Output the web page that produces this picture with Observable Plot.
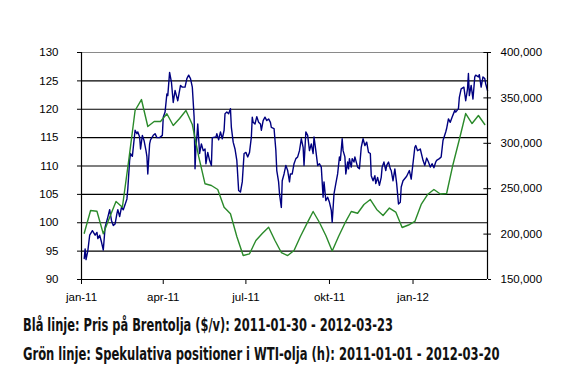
<!DOCTYPE html>
<html><head><meta charset="utf-8">
<script src="https://cdn.jsdelivr.net/npm/d3@7"></script>
<script src="https://cdn.jsdelivr.net/npm/@observablehq/plot@0.6"></script>
<style>
body{margin:0;background:#fff;}
#chart svg{display:block}
#caption{display:block}
</style></head><body><div id="chart"></div>
<svg id="caption" width="580" height="74" xmlns="http://www.w3.org/2000/svg"></svg>
<script>
// Brent price (left axis, $/barrel); days counted from 2011-01-01
const brentDay = [
 3,4,5,7,9,12,15,17,18,20,
 22,24,26,28,29,31,33,35,37,39,
 40,42,44,46,48,50,51,53,54,56,
 59,61,62,64,65,67,69,71,72,73,
 75,76,79,81,83,86,89,90,92,94,
 95,97,99,101,103,104,106,109,111,114,
 116,118,120,122,124,125,126,127,128,130,
 132,134,136,137,139,141,143,144,148,149,
 151,153,155,157,158,160,162,164,165,167,
 169,171,173,175,177,179,181,183,185,187,
 188,189,191,193,195,197,198,200,202,204,
 206,208,209,212,214,215,217,218,220,221,
 223,225,227,229,230,232,234,236,238,240,
 242,244,245,247,249,251,253,255,256,258,
 260,262,264,266,267,269,271,273,275,276,
 278,280,282,284,285,287,288,290,291,293,
 294,295,297,298,300,301,304,306,308,310,
 312,314,316,318,319,321,323,324,326,328,
 330,331,333,335,336,338,340,341,343,345,
 347,349,351,352,354,358,361,363,367,368,
 370,373,376,378,380,382,384,386,388,390,
 391,394,396,398,401,402,404,406,408,411,
 412,415,416,418,421,423,425,426,427,429,
 431,433,434,437,438,440,442,444,445,447];
const brentPrice = [
 93.7,95.4,93.5,95.1,97.8,98.6,97.8,98.3,97.2,97.8,
 96.6,95.2,99.2,100.4,101.0,102.3,100.4,99.5,99.8,101.6,
 102.3,101.1,102.7,102.3,103.2,104.2,106.0,111.0,112.2,111.7,
 116.3,115.7,116.0,115.1,113.0,115.4,114.4,112.7,111.7,108.6,
 113.9,114.6,115.4,115.7,115.0,115.0,115.4,118.6,119.5,122.7,
 122.4,126.5,124.8,121.2,123.3,122.7,121.5,124.2,123.9,123.9,
 125.4,126.0,125.4,123.9,118.6,109.5,113.3,115.1,117.4,112.2,
 113.9,112.7,113.0,110.4,112.4,111.0,110.1,115.0,115.1,115.7,
 114.6,116.0,114.8,116.3,119.2,119.5,119.2,120.1,116.8,114.2,
 113.0,111.0,105.7,105.4,107.2,112.2,112.4,111.6,112.4,115.1,
 118.6,117.7,117.4,118.7,117.7,117.4,116.3,118.0,118.6,118.0,
 118.3,117.7,116.8,116.6,112.7,109.2,107.2,105.1,102.7,107.4,
 108.6,110.1,109.2,107.2,108.6,108.6,110.4,111.3,111.6,112.7,
 114.8,113.3,110.1,116.0,115.4,112.7,113.9,112.2,115.1,112.7,
 110.1,110.4,109.8,104.5,107.2,103.9,104.5,103.6,102.2,100.1,
 105.1,106.9,108.6,111.6,111.0,114.8,112.7,111.6,108.6,110.7,
 109.5,111.3,109.8,111.3,110.7,111.6,109.8,109.5,113.3,114.8,
 113.6,114.2,112.4,112.2,108.3,107.4,108.3,106.9,108.0,106.6,
 108.0,109.8,110.7,109.2,110.1,110.7,109.5,109.2,107.4,109.5,
 106.9,103.3,103.6,106.3,107.4,108.2,109.2,107.7,113.3,113.6,
 112.7,113.0,111.0,110.1,111.4,110.7,109.8,110.4,109.7,110.7,
 111.0,111.3,111.6,114.5,116.0,116.6,118.3,117.7,118.6,119.8,
 119.5,120.1,122.1,123.6,123.9,121.5,123.6,126.3,122.4,124.2,
 121.8,125.7,126.0,125.7,126.1,123.9,125.7,125.4,124.5,123.3];

// Speculative positions in WTI (right axis, contracts), weekly
const wtiDay = [
 3,10,17,24,31,38,45,52,59,66,
 73,80,87,94,101,108,115,122,129,136,
 143,150,157,164,171,178,185,192,199,206,
 213,220,227,234,241,248,255,262,269,276,
 283,290,297,304,311,318,325,332,339,346,
 353,360,367,374,381,388,395,402,409,416,
 423,430,437,444];
const wtiPos = [
 201000,226000,225200,200300,218600,235900,229600,281100,336100,348200,
 318500,324000,324000,332500,319600,327300,336100,320700,285500,255400,
 253500,249100,229600,222400,197400,176400,178300,193000,200700,207600,
 193000,179700,176400,181900,197400,211300,224900,212800,198500,181400,
 197400,212000,224900,223000,232600,238100,227100,220500,228700,224300,
 207300,210000,213900,232600,243600,249100,244200,244700,276700,304200,
 332800,321800,330600,320700];

const leftTicks = [90,95,100,105,110,115,120,125,130];
const rightTicks = [150000,200000,250000,300000,350000,400000];
const xTickDays = [0,90,181,273,365];
const xTickLabels = ["jan-11","apr-11","jul-11","okt-11","jan-12"];
const xEndDay = 447;
const captionLines = [
 "Blå linje: Pris på Brentolja ($/v): 2011-01-30 - 2012-03-23",
 "Grön linje: Spekulativa positioner i WTI-olja (h): 2011-01-01 - 2012-03-20"
];

const baseDate = new Date(2011,0,1);
const toDate = d => d3.timeDay.offset(baseDate, d);
const L0 = 90, L1 = 130, R0 = 150000, R1 = 400000;
const toLeft = v => L0 + (v - R0) / (R1 - R0) * (L1 - L0);

const brent = brentDay.map((d,i)=>({date:toDate(d), price:brentPrice[i]}));
const wti = wtiDay.map((d,i)=>({date:toDate(d), pos:toLeft(wtiPos[i])}));
const xTicks = xTickDays.map(toDate);
const xLabelMap = new Map(xTicks.map((t,i)=>[+t, xTickLabels[i]]));
const rightLeftVals = rightTicks.map(toLeft);
const fmt = d3.format(",");
const xStart = toDate(0), xEnd = toDate(xEndDay);

const plot = Plot.plot({
  width:580, height:305,
  marginTop:52, marginBottom:26, marginLeft:81, marginRight:93,
  style:{fontFamily:"'Liberation Sans', Arial, sans-serif", fontSize:"11.5px", color:"#000", background:"#fff"},
  x:{type:"time", domain:[xStart, xEnd]},
  y:{domain:[L0, L1]},
  marks:[
    Plot.ruleY(leftTicks.slice(1,-1), {stroke:"#000", strokeWidth:1.2}),
    Plot.ruleY([L1], {stroke:"#8a8a8a", strokeWidth:1.2}),
    Plot.line(brent, {x:"date", y:"price", stroke:"#000080", strokeWidth:1.4}),
    Plot.line(wti, {x:"date", y:"pos", stroke:"#2a8a2a", strokeWidth:1.4}),
    Plot.ruleY([L0], {stroke:"#000", strokeWidth:1.2}),
    Plot.ruleX([xStart], {stroke:"#000", strokeWidth:1.2}),
    Plot.ruleX([xEnd], {stroke:"#000", strokeWidth:1.2}),
    Plot.ruleY(rightLeftVals, {x1:toDate(xEndDay-3.5), x2:xEnd, stroke:"#000", strokeWidth:1}),
    Plot.axisY({anchor:"left", ticks:leftTicks, tickSize:4, tickPadding:19, label:null, tickFormat:d=>String(d), stroke:"#000"}),
    Plot.axisY({anchor:"right", ticks:rightLeftVals, tickSize:3, tickPadding:10, label:null,
      tickFormat:v=>fmt(rightTicks[rightLeftVals.findIndex(r=>Math.abs(r-v)<1e-9)]), stroke:"#000"}),
    Plot.axisX({ticks:xTicks, tickSize:5, tickPadding:8, label:null, tickFormat:d=>xLabelMap.get(+d), stroke:"#000"})
  ]
});
document.getElementById("chart").appendChild(plot);

const cap = d3.select("#caption");
const capWidths = [370, 477];
const capBase = [26, 55];
captionLines.forEach((t,i)=>{
  const txt = cap.append("text")
    .attr("x", 0).attr("y", 0)
    .attr("font-family","'Liberation Sans Narrow','DejaVu Sans Condensed','Liberation Sans',sans-serif")
    .attr("font-weight","bold").attr("font-size",18).attr("fill","#111")
    .text(t);
  const natural = txt.node().getComputedTextLength();
  const sx = capWidths[i] / natural;
  txt.attr("transform", `translate(23,${capBase[i]}) scale(${sx},1)`);
});
</script></body></html>
